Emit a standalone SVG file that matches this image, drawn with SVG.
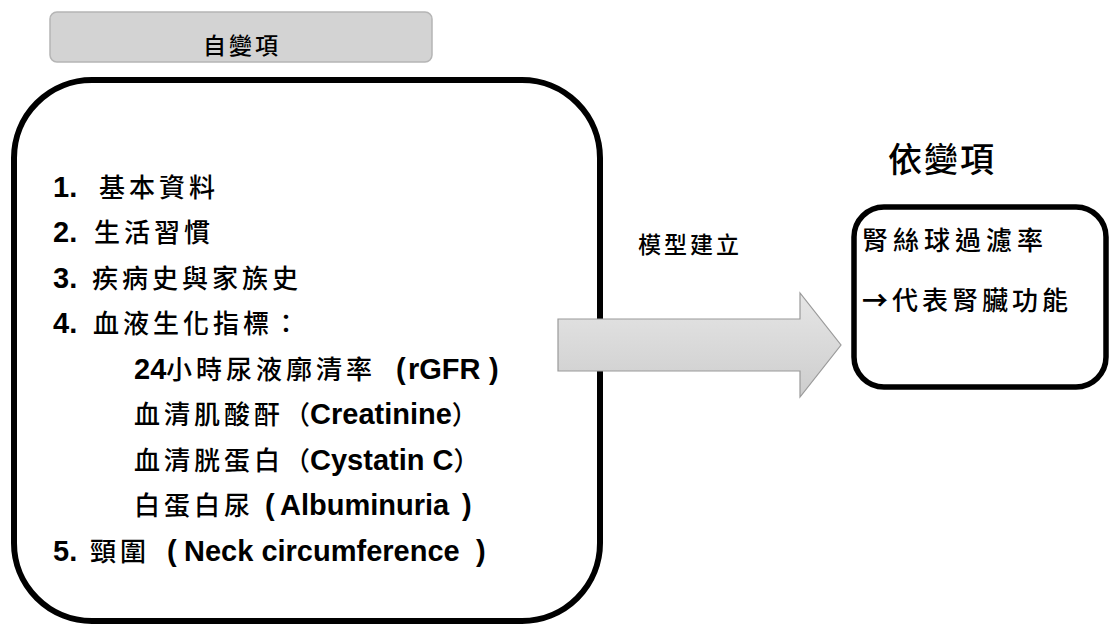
<svg xmlns="http://www.w3.org/2000/svg" width="1110" height="628" viewBox="0 0 1110 628">
<defs>
<style>
.cjk{font-family:"Noto Sans CJK TC","Noto Sans CJK SC",sans-serif;fill:#000;font-weight:500}
.lat{font-family:"Liberation Sans",Arial,sans-serif;font-weight:bold;fill:#000}
.item{font-size:26px;letter-spacing:4px}
.par{font-size:26px;letter-spacing:0}
.num{font-size:29px;letter-spacing:0}
.box{fill:#fff;stroke:#000}
</style>
<linearGradient id="arrowFill" x1="0" y1="0" x2="0" y2="1">
<stop offset="0" stop-color="#e6e6e6"/>
<stop offset="1" stop-color="#cdcdcd"/>
</linearGradient>
</defs>
<rect width="1110" height="628" fill="#fff"/>

<g id="header">
<rect x="50" y="12" width="382" height="50" rx="7" fill="#d3d3d3" stroke="#b5b5b5" stroke-width="1.5"/>
<text class="cjk" x="242" y="54" font-size="23" letter-spacing="3" text-anchor="middle">自變項</text>
</g>

<g id="independent">
<rect class="box" x="14" y="80" width="586" height="541" rx="78" stroke-width="6"/>
<text class="lat num" x="53" y="197">1.</text><text class="cjk item" x="99" y="197">基本資料</text>
<text class="lat num" x="53" y="242">2.</text><text class="cjk item" x="94" y="242">生活習慣</text>
<text class="lat num" x="53" y="288">3.</text><text class="cjk item" x="92" y="288">疾病史與家族史</text>
<text class="lat num" x="53" y="333">4.</text><text class="cjk item" x="93" y="333">血液生化指標：</text>
<text y="379"><tspan class="lat num" x="134">24</tspan><tspan class="cjk item" x="166">小時尿液廓清率</tspan><tspan class="lat num" x="396">(</tspan><tspan class="lat num" x="408">rGFR</tspan><tspan class="lat num" x="489">)</tspan></text>
<text x="134" y="424"><tspan class="cjk item">血清肌酸酐</tspan><tspan class="cjk par">（</tspan><tspan class="lat num">Creatinine</tspan><tspan class="cjk par">）</tspan></text>
<text x="134" y="470"><tspan class="cjk item">血清胱蛋白</tspan><tspan class="cjk par">（</tspan><tspan class="lat num">Cystatin C</tspan><tspan class="cjk par">）</tspan></text>
<text y="515"><tspan class="cjk item" x="134">白蛋白尿</tspan><tspan class="lat num" x="265">(</tspan><tspan class="lat num" x="280">Albuminuria</tspan><tspan class="lat num" x="462">)</tspan></text>
<text y="561"><tspan class="lat num" x="53">5.</tspan><tspan class="cjk item" x="90">頸圍</tspan><tspan class="lat num" x="167">(</tspan><tspan class="lat num" x="184">Neck circumference</tspan><tspan class="lat num" x="476">)</tspan></text>
</g>

<g id="connectors">
<path d="M558,319 H800 V293 L841,345 L800,397 V371 H558 Z" fill="url(#arrowFill)" stroke="#9a9a9a" stroke-width="1.2"/>
<text class="cjk" x="638" y="253" font-size="23" font-weight="bold" letter-spacing="3">模型建立</text>
</g>

<g id="dependent-title">
<text class="cjk" x="888" y="172" font-size="34" font-weight="bold" letter-spacing="2">依變項</text>
</g>

<g id="dependent">
<rect class="box" x="854" y="207" width="252" height="180" rx="30" stroke-width="5.5"/>
<text class="cjk" x="862" y="250" font-size="26" letter-spacing="5">腎絲球過濾率</text>
<text class="cjk" x="862" y="310" font-size="26" letter-spacing="4"><tspan font-weight="bold">→</tspan>代表腎臟功能</text>
</g>
</svg>
